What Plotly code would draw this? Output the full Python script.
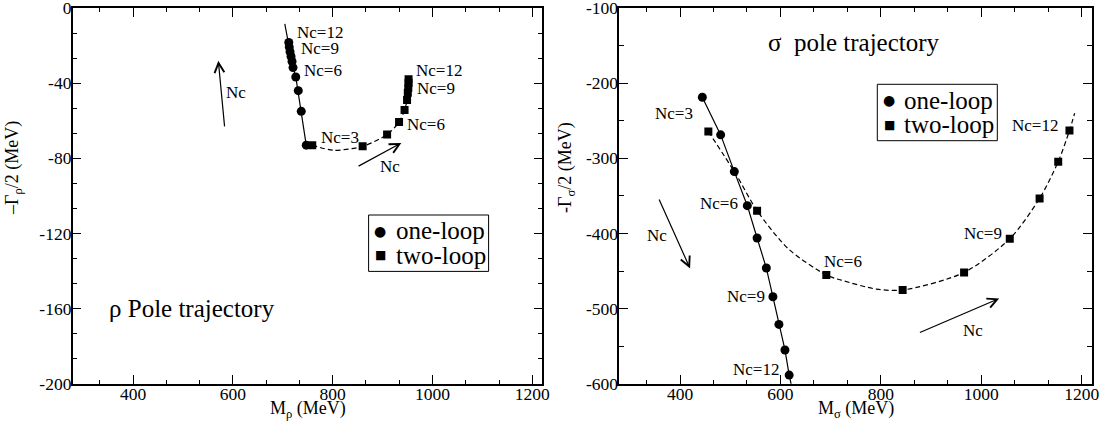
import plotly.graph_objects as go

# ---------------- data ----------------
# rho pole, one-loop (Nc = 3 ... 12)
rho_one_M = [747, 737, 731, 726, 720.5, 718.5, 716.5, 714.5, 713, 712]
rho_one_G = [-73, -55, -44, -36.7, -31.7, -28.5, -25.8, -23.3, -20.8, -18.3]
# rho pole, two-loop (Nc = 3 ... 12)
rho_two_M = [759, 860, 909, 933, 944, 949, 950.5, 951.5, 952, 952]
rho_two_G = [-73, -73.6, -67.3, -60.7, -54.3, -49, -45.1, -42.4, -39.9, -37.9]
# continuous trajectories (curves)
rho_one_curve_M = [747, 737, 731, 726, 720.5, 716.5, 712, 704]
rho_one_curve_G = [-73, -55, -44, -36.7, -31.7, -25.8, -18.3, -8.5]
rho_two_curve_M = [759, 802, 860, 909, 933, 944, 949, 952]
rho_two_curve_G = [-73, -75.7, -73.6, -67.3, -60.7, -54.3, -49, -37.9]

# sigma pole, one-loop
sig_one_M = [444.4, 480.9, 508.1, 534, 553.5, 571.9, 585, 597, 609, 617.4]
sig_one_G = [-218.8, -268.8, -317.7, -363, -406, -446, -484.2, -521, -555, -588.4]
# sigma pole, two-loop
sig_two_M = [456.4, 553.5, 691.4, 843.4, 965.8, 1056.8, 1116.2, 1153.3, 1175.7]
sig_two_G = [-264.4, -369.6, -455.3, -475.2, -451.8, -406.9, -353.3, -304.4, -263.1]
# continuous trajectories (curves)
sig_one_curve_M = [444.4, 480.9, 508.1, 534, 553.5, 571.9, 585, 597, 609, 617.4, 626]
sig_one_curve_G = [-218.8, -268.8, -317.7, -363, -406, -446, -484.2, -521, -555, -588.4, -615]
sig_two_curve_M = [456.4, 511, 553.5, 616, 691.4, 721, 791, 843.4, 965.8, 1056.8, 1116.2, 1153.3, 1175.7, 1186]
sig_two_curve_G = [-264.4, -320.8, -369.6, -420.6, -455.3, -462, -474, -475.2, -451.8, -406.9, -353.3, -304.4, -263.1, -240]

# tick values and labels
x_ticks = [400, 600, 800, 1000, 1200]
x_ticktext = ["400", "600", "800", "1000", "1200"]
rho_y_ticks = [0, -40, -80, -120, -160, -200]
rho_y_ticktext = ["0", "-40", "-80", "-120", "-160", "-200"]
sig_y_ticks = [-100, -200, -300, -400, -500, -600]
sig_y_ticktext = ["-100", "-200", "-300", "-400", "-500", "-600"]

# text labels: (text, M, Gamma, anchor)
rho_labels = [("Nc=12", 725, -13.0, "left"), ("Nc=9", 733, -21.5, "left"),
              ("Nc=6", 738, -33.5, "left"), ("Nc=3", 772, -69.1, "left"),
              ("Nc=12", 962, -33.5, "left"), ("Nc=9", 964, -42.9, "left"),
              ("Nc=6", 945.5, -62.0, "left"),
              ("Nc", 606.5, -45.0, "center"), ("Nc", 914.9, -84.6, "center")]
sig_labels = [("Nc=3", 387.7, -240.9, "center"), ("Nc=6", 477.3, -360.0, "center"),
              ("Nc=9", 531.2, -484.0, "center"), ("Nc=12", 552.2, -581.4, "center"),
              ("Nc=6", 725.0, -437.0, "center"), ("Nc=9", 1004.2, -399.8, "center"),
              ("Nc=12", 1107.0, -256.5, "center"),
              ("Nc", 353.4, -403.0, "center"), ("Nc", 983.4, -529.4, "center")]
# arrows: (tail M, tail G, head M, head G)
rho_arrows = [(583.6, -63.8, 570.8, -28.1), (848.8, -84.6, 937.5, -71.8)]
sig_arrows = [(357.0, -352.7, 420.0, -446.5), (874.8, -532.5, 1035.7, -486.4)]

legend_names = ["one-loop", "two-loop"]

FONT = "Liberation Serif, Times New Roman, Times, DejaVu Serif, serif"
W, H = 1111, 428

fig = go.Figure()

def add_panel(xa, ya, one_M, one_G, two_M, two_G, c1M, c1G, c2M, c2G):
    fig.add_trace(go.Scatter(x=c1M, y=c1G, mode="lines", xaxis=xa, yaxis=ya,
                             line=dict(color="black", width=1.2), showlegend=False,
                             hoverinfo="skip"))
    fig.add_trace(go.Scatter(x=c2M, y=c2G, mode="lines", xaxis=xa, yaxis=ya,
                             line=dict(color="black", width=1.2, dash="5px,3px",
                                       shape="spline", smoothing=0.8),
                             showlegend=False, hoverinfo="skip"))
    fig.add_trace(go.Scatter(x=one_M, y=one_G, mode="markers", name=legend_names[0],
                             xaxis=xa, yaxis=ya, showlegend=False,
                             marker=dict(symbol="circle", size=9, color="black")))
    fig.add_trace(go.Scatter(x=two_M, y=two_G, mode="markers", name=legend_names[1],
                             xaxis=xa, yaxis=ya, showlegend=False,
                             marker=dict(symbol="square", size=8, color="black")))

add_panel("x", "y", rho_one_M, rho_one_G, rho_two_M, rho_two_G,
          rho_one_curve_M, rho_one_curve_G, rho_two_curve_M, rho_two_curve_G)
add_panel("x2", "y2", sig_one_M, sig_one_G, sig_two_M, sig_two_G,
          sig_one_curve_M, sig_one_curve_G, sig_two_curve_M, sig_two_curve_G)

top, bottom = 8.0, 383.8
ydom = [(H - bottom) / H, (H - top) / H]

def axis(domain, rng, tickvals, ticktext, mdtick, standoff, anchor):
    return dict(domain=domain, range=rng, tickmode="array", tickvals=tickvals,
                ticktext=ticktext, anchor=anchor, automargin=False,
                showline=True, linecolor="black", linewidth=1.5, mirror="allticks",
                ticks="inside", ticklen=9, tickwidth=1, tickcolor="black",
                showgrid=False, zeroline=False, ticklabeloverflow="allow",
                ticklabelstandoff=standoff,
                tickfont=dict(family=FONT, size=17.5, color="black"),
                minor=dict(dtick=mdtick, tick0=0, ticks="inside", ticklen=4.5,
                           tickwidth=1, tickcolor="black", showgrid=False))

annotations = []
for labels, xr, yr in ((rho_labels, "x", "y"), (sig_labels, "x2", "y2")):
    for t, mx, gy, anc in labels:
        annotations.append(dict(text=t, x=mx, y=gy, xref=xr, yref=yr, showarrow=False,
                                xanchor=anc, yanchor="middle",
                                font=dict(family=FONT, size=17, color="black")))
for arrows, xr, yr in ((rho_arrows, "x", "y"), (sig_arrows, "x2", "y2")):
    for tm, tg, hm, hg in arrows:
        annotations.append(dict(text="", x=hm, y=hg, ax=tm, ay=tg, xref=xr, yref=yr,
                                axref=xr, ayref=yr, showarrow=True, arrowhead=5,
                                arrowsize=1.6, arrowwidth=1.2, arrowcolor="black",
                                standoff=0, startstandoff=0))

# panel titles
annotations.append(dict(text="ρ Pole trajectory", x=519, y=-160, xref="x", yref="y",
                        showarrow=False, font=dict(family=FONT, size=25, color="black")))
annotations.append(dict(text="σ  pole trajectory", x=747, y=-146.4, xref="x2", yref="y2",
                        showarrow=False, font=dict(family=FONT, size=25, color="black")))
# axis titles
for xr, txt in (("x domain", "M<sub>ρ</sub> (MeV)"), ("x2 domain", "M<sub>σ</sub> (MeV)")):
    annotations.append(dict(text=txt, x=0.5, xref=xr, y=(H - 409) / H,
                            yref="paper", showarrow=False, yanchor="middle",
                            font=dict(family=FONT, size=18, color="black")))
for xpx, txt in ((13, "–Γ<sub>ρ</sub>/2 (MeV)"), (566, "-Γ<sub>σ</sub>/2 (MeV)")):
    annotations.append(dict(text=txt, x=xpx / W, xref="paper", y=(H - 168) / H,
                            yref="paper", showarrow=False, textangle=-90,
                            xanchor="center", yanchor="middle",
                            font=dict(family=FONT, size=18, color="black")))

# legend boxes (one per panel), in pixel positions of the page
shapes = []
for (bx0, by0) in ((368.6, 215.0), (877.3, 84.3)):
    bw, bh = 120, 56.4
    shapes.append(dict(type="rect", xref="paper", yref="paper",
                       x0=bx0 / W, x1=(bx0 + bw) / W, y0=(H - by0 - bh) / H, y1=(H - by0) / H,
                       line=dict(color="black", width=1), fillcolor="white", layer="above"))
    for k, (glyph, gsize) in enumerate((("●", 14), ("■", 12))):
        ry = by0 + 16 + k * 24.3
        annotations.append(dict(text=glyph, x=(bx0 + 11.7) / W, y=(H - ry) / H,
                                xref="paper", yref="paper", showarrow=False,
                                xanchor="center", yanchor="middle",
                                font=dict(family="DejaVu Sans", size=gsize, color="black")))
        annotations.append(dict(text=legend_names[k], x=(bx0 + 25) / W, y=(H - ry) / H,
                                xref="paper", yref="paper", showarrow=False,
                                xanchor="left", yanchor="middle",
                                font=dict(family=FONT, size=25, color="black")))

fig.update_layout(
    width=W, height=H, margin=dict(l=0, r=0, t=0, b=0, autoexpand=False),
    paper_bgcolor="white", plot_bgcolor="white",
    xaxis=axis([72.7 / W, 542.3 / W], [279, 1220], x_ticks, x_ticktext, 200 / 3, -7, "y"),
    yaxis=axis(ydom, [-200, 0], rho_y_ticks, rho_y_ticktext, 40 / 3, -4, "x"),
    xaxis2=axis([619.3 / W, 1091.7 / W], [279, 1220], x_ticks, x_ticktext, 200 / 3, -7, "y2"),
    yaxis2=axis(ydom, [-600, -100], sig_y_ticks, sig_y_ticktext, 50, -4, "x2"),
    annotations=annotations, shapes=shapes,
    showlegend=False,
)

# remove the browser's default page margin so the figure sits at the window's corner
fig.write_html("out.html", config={"displayModeBar": False},
               post_script="document.body.style.margin='0';document.body.style.overflow='hidden';")
